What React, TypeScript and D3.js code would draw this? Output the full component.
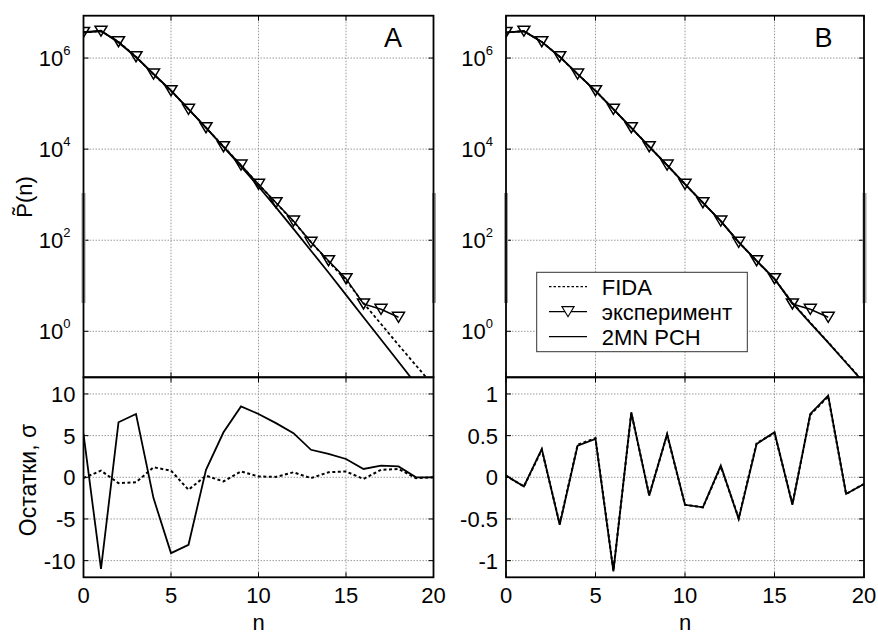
import React from 'react';
import * as d3 from 'd3';

// ---- data ----
const nModel = [0, 1, 2, 3, 4, 5, 6, 7, 8, 9, 10, 11, 12, 13, 14, 15, 16, 17, 18, 19, 20];
const nExp = [0, 1, 2, 3, 4, 5, 6, 7, 8, 9, 10, 11, 12, 13, 14, 15, 16, 17, 18];

const expP = [3.66e6, 3.9e6, 2.28e6, 1.07e6, 4.46e5, 1.92e5, 7.5e4, 2.95e4, 1.13e4, 4.48e3, 1.69e3, 665, 264, 90, 35.5, 14.3, 3.98, 3.04, 2.03];

const pch2mnA = [3.72e6, 3.98e6, 2.19e6, 1.05e6, 4.47e5, 1.95e5, 7.59e4, 2.95e4, 1.12e4, 4.17e3, 1.51e3, 525, 178, 58.9, 19.5, 6.31, 2.04, 0.661, 0.214, 0.0692, 0.0224];
const fidaA = [3.63e6, 3.89e6, 2.29e6, 1.07e6, 4.37e5, 1.91e5, 7.59e4, 2.95e4, 1.15e4, 4.42e3, 1.68e3, 661, 257, 91.2, 34.3, 13.2, 4.17, 1.45, 0.501, 0.178, 0.0631];
const pch2mnB = [3.63e6, 3.89e6, 2.26e6, 1.07e6, 4.45e5, 1.91e5, 7.55e4, 2.93e4, 1.14e4, 4.45e3, 1.7e3, 670, 263, 90.8, 35.2, 14.1, 4.17, 1.51, 0.562, 0.204, 0.0741];
const fidaB = [3.63e6, 3.89e6, 2.26e6, 1.07e6, 4.45e5, 1.91e5, 7.55e4, 2.93e4, 1.14e4, 4.45e3, 1.7e3, 670, 263, 90.8, 35.2, 14.1, 4.27, 1.55, 0.575, 0.209, 0.0759];

const res2mnA = [5.2, -11.0, 6.6, 7.6, -2.5, -9.1, -8.1, 0.9, 5.4, 8.5, 7.6, 6.5, 5.3, 3.3, 2.8, 2.2, 1.0, 1.4, 1.3, 0.0, 0.0];
const resFidaA = [-0.1, 0.8, -0.7, -0.6, 1.2, 0.8, -1.5, 0.2, -0.5, 0.7, 0.1, 0.05, 0.6, -0.1, 0.6, 0.7, -0.2, 0.9, 1.0, -0.1, 0.0];
const res2mnB = [0.02, -0.11, 0.34, -0.57, 0.38, 0.46, -1.13, 0.78, -0.22, 0.52, -0.33, -0.36, 0.14, -0.5, 0.4, 0.54, -0.33, 0.76, 0.98, -0.2, -0.08];
const resFidaB = [0.02, -0.11, 0.33, -0.56, 0.39, 0.47, -1.12, 0.77, -0.21, 0.51, -0.33, -0.36, 0.13, -0.49, 0.41, 0.53, -0.32, 0.75, 0.97, -0.2, -0.08];

const xTicks = [0, 5, 10, 15, 20];
const logTicks = [1, 100, 1e4, 1e6];
const resTicksA = [-10, -5, 0, 5, 10];
const resTicksB = [-1, -0.5, 0, 0.5, 1];
const legendLabels = ['FIDA', 'эксперимент', '2MN PCH'];
const panelLetters = ['A', 'B'];

// ---- layout ----
const W = 878;
const H = 635;
const Y_TOP = 15.7;
const Y_SPLIT = 377.3;
const Y_BOT = 577.3;
const FONT = "'Liberation Sans', Arial, Helvetica, sans-serif";
const TICK = 5;

const tri = 'M-6,-5L6,-5L0,5Z';

function Panel(props: any) {
  const { id, x0, x1, m2, mf, r2, rf, resDomain, resTicks, letter, legend } = props;
  const xs = d3.scaleLinear().domain([0, 20]).range([x0, x1]);
  const yTop = d3.scaleLog().domain([Math.pow(10, -1.01), Math.pow(10, 6.93)]).range([Y_SPLIT, Y_TOP]);
  const yRes = d3.scaleLinear().domain(resDomain).range([Y_BOT, Y_SPLIT]);

  const lineTop = d3.line<number>().x((_, i) => xs(nModel[i])).y((d) => yTop(d));
  const lineExp = d3.line<number>().x((_, i) => xs(nExp[i])).y((d) => yTop(d));
  const lineRes = d3.line<number>().x((_, i) => xs(nModel[i])).y((d) => yRes(d));

  const grid = '#9a9a9a';
  const fmtRes = (v: number) => (v < 0 ? '-' + String(Math.abs(v)) : String(v));

  return (
    <g>
      <defs>
        <clipPath id={`clipT${id}`}>
          <rect x={x0} y={Y_TOP} width={x1 - x0} height={Y_SPLIT - Y_TOP} />
        </clipPath>
        <clipPath id={`clipB${id}`}>
          <rect x={x0} y={Y_SPLIT} width={x1 - x0} height={Y_BOT - Y_SPLIT} />
        </clipPath>
      </defs>
      <rect x={x0} y={Y_TOP} width={x1 - x0} height={Y_BOT - Y_TOP} fill="#fff" />
      {/* grid */}
      {xTicks.slice(1, -1).map((t) => (
        <line key={'gx' + t} x1={xs(t)} x2={xs(t)} y1={Y_TOP} y2={Y_BOT} stroke={grid} strokeWidth={1} strokeDasharray="1.5,1.5" />
      ))}
      {logTicks.map((t) => (
        <line key={'gy' + t} x1={x0} x2={x1} y1={yTop(t)} y2={yTop(t)} stroke={grid} strokeWidth={1} strokeDasharray="1.5,1.5" />
      ))}
      {resTicks.map((t: number) => (
        <line key={'gr' + t} x1={x0} x2={x1} y1={yRes(t)} y2={yRes(t)} stroke={grid} strokeWidth={1} strokeDasharray="1.5,1.5" />
      ))}
      {/* top data */}
      <g clipPath={`url(#clipT${id})`}>
        <path d={lineTop(mf) || ''} fill="none" stroke="#000" strokeWidth={1.8} strokeDasharray="3,2.5" />
        <path d={lineTop(m2) || ''} fill="none" stroke="#000" strokeWidth={1.8} />
        <path d={lineExp(expP) || ''} fill="none" stroke="#000" strokeWidth={1.5} />
        {expP.map((v, i) => (
          <path key={'m' + i} d={tri} transform={`translate(${xs(nExp[i])},${yTop(v)})`} fill="none" stroke="#000" strokeWidth={1.5} />
        ))}
      </g>
      {/* residuals */}
      <g clipPath={`url(#clipB${id})`}>
        <path d={lineRes(rf) || ''} fill="none" stroke="#000" strokeWidth={2} strokeDasharray="3,2.5" />
        <path d={lineRes(r2) || ''} fill="none" stroke="#000" strokeWidth={1.8} />
      </g>
      {/* ticks */}
      {xTicks.map((t) => (
        <g key={'tx' + t}>
          <line x1={xs(t)} x2={xs(t)} y1={Y_TOP} y2={Y_TOP + TICK} stroke="#000" />
          <line x1={xs(t)} x2={xs(t)} y1={Y_SPLIT} y2={Y_SPLIT - TICK} stroke="#000" />
          <line x1={xs(t)} x2={xs(t)} y1={Y_SPLIT} y2={Y_SPLIT + TICK} stroke="#000" />
          <line x1={xs(t)} x2={xs(t)} y1={Y_BOT} y2={Y_BOT - TICK} stroke="#000" />
          <text x={xs(t)} y={603} textAnchor="middle" fontSize={22} fontFamily={FONT}>{t}</text>
        </g>
      ))}
      {logTicks.map((t) => (
        <g key={'ty' + t}>
          <line x1={x0} x2={x0 + TICK} y1={yTop(t)} y2={yTop(t)} stroke="#000" />
          <line x1={x1} x2={x1 - TICK} y1={yTop(t)} y2={yTop(t)} stroke="#000" />
          <text x={x0 - 13} y={yTop(t) + 8} textAnchor="end" fontSize={22} fontFamily={FONT}>
            10
            <tspan fontSize={13} dy={-11.5}>{String(Math.round(Math.log10(t)))}</tspan>
          </text>
        </g>
      ))}
      {resTicks.map((t: number) => (
        <g key={'tr' + t}>
          <line x1={x0} x2={x0 + TICK} y1={yRes(t)} y2={yRes(t)} stroke="#000" />
          <line x1={x1} x2={x1 - TICK} y1={yRes(t)} y2={yRes(t)} stroke="#000" />
          <text x={x0 - 8} y={yRes(t) + 8} textAnchor="end" fontSize={22} fontFamily={FONT}>{fmtRes(t)}</text>
        </g>
      ))}
      {/* scan artefact strips */}
      <rect x={x0 - 2} y={193} width={4} height={110} fill="#a0a0a0" />
      <rect x={x1 - 1.5} y={193} width={4} height={110} fill="#a0a0a0" />
      {/* frames */}
      <rect x={x0} y={Y_TOP} width={x1 - x0} height={Y_SPLIT - Y_TOP} fill="none" stroke="#000" strokeWidth={1.8} />
      <rect x={x0} y={Y_SPLIT} width={x1 - x0} height={Y_BOT - Y_SPLIT} fill="none" stroke="#000" strokeWidth={1.8} />
      <text x={x1 - 40.5} y={47} textAnchor="middle" fontSize={27} fontFamily={FONT}>{letter}</text>
      <text x={(x0 + x1) / 2} y={630} textAnchor="middle" fontSize={22} fontFamily={FONT}>n</text>
      {legend && (
        <g>
          <rect x={536.7} y={272.3} width={210.6} height={79.4} fill="#fff" stroke="#333" strokeWidth={1} />
          <line x1={549} x2={587} y1={286.7} y2={286.7} stroke="#000" strokeWidth={1.2} strokeDasharray="2.5,2" />
          <line x1={549} x2={587} y1={311.7} y2={311.7} stroke="#000" strokeWidth={1.2} />
          <path d={tri} transform="translate(568,311.7)" fill="#fff" stroke="#000" strokeWidth={1.2} />
          <line x1={549} x2={587} y1={336.7} y2={336.7} stroke="#000" strokeWidth={1.2} />
          {legendLabels.map((l, i) => (
            <text key={l} x={601.7} y={286.7 + 25 * i + 8} fontSize={22} fontFamily={FONT}>{l}</text>
          ))}
        </g>
      )}
    </g>
  );
}

export default function App() {
  return (
    <svg width={W} height={H} style={{ position: 'absolute', left: 0, top: 0, background: '#fff' }}>
      <rect x={0} y={0} width={W} height={H} fill="#fff" />
      <Panel id="A" x0={83.5} x1={433.5} m2={pch2mnA} mf={fidaA} r2={res2mnA} rf={resFidaA} resDomain={[-12, 12]} resTicks={resTicksA} letter={panelLetters[0]} legend={false} />
      <Panel id="B" x0={506} x1={864} m2={pch2mnB} mf={fidaB} r2={res2mnB} rf={resFidaB} resDomain={[-1.2, 1.2]} resTicks={resTicksB} letter={panelLetters[1]} legend={true} />
      <text transform="translate(32,197) rotate(-90)" textAnchor="middle" fontSize={22} fontFamily={FONT}>{'P\u0303(n)'}</text>
      <text transform="translate(36,480) rotate(-90)" textAnchor="middle" fontSize={23} fontFamily={FONT}>{'Остатки, σ'}</text>
    </svg>
  );
}
